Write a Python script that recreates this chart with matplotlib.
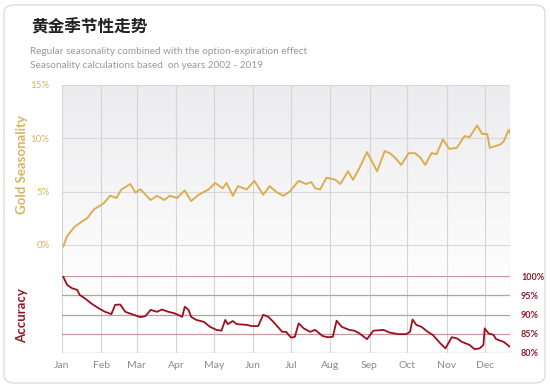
import matplotlib.pyplot as plt
import numpy as np
from matplotlib.patches import FancyBboxPatch
from matplotlib.colors import LinearSegmentedColormap

months = ['Jan', 'Feb', 'Mar', 'Apr', 'May', 'Jun', 'Jul', 'Aug', 'Sep', 'Oct', 'Nov', 'Dec']
month_start = [0, 31, 59, 90, 120, 151, 181, 212, 243, 273, 304, 334]

# gold seasonality (%), day of year
gold_days = [1, 4, 10, 16, 20, 25, 33, 38, 43, 47, 54, 58, 62, 70, 75, 81, 85, 91, 97, 102,
             108, 116, 121, 127, 130, 135, 139, 146, 152, 159, 164, 170, 175, 180, 187, 193,
             197, 200, 204, 209, 216, 220, 226, 230, 235, 241, 249, 255, 259, 263, 268, 274,
             279, 283, 287, 292, 296, 301, 306, 312, 318, 322, 328, 332, 336, 338, 346, 349,
             353, 354]
gold = [-0.15, 0.8, 1.7, 2.2, 2.5, 3.3, 3.9, 4.6, 4.4, 5.2, 5.7, 4.9, 5.2, 4.2, 4.6, 4.2, 4.6,
        4.4, 5.1, 4.1, 4.7, 5.2, 5.8, 5.3, 5.8, 4.6, 5.5, 5.2, 6.0, 4.7, 5.5, 4.9, 4.6, 5.0,
        6.0, 5.7, 5.9, 5.3, 5.2, 6.3, 6.1, 5.7, 6.9, 6.1, 7.2, 8.7, 6.9, 8.8, 8.6, 8.2, 7.5,
        8.6, 8.6, 8.2, 7.5, 8.6, 8.5, 9.9, 9.0, 9.1, 10.2, 10.1, 11.2, 10.4, 10.4, 9.1, 9.4,
        9.7, 10.8, 10.5]

# accuracy (%), day of year
acc_days = [1, 4, 8, 12, 14, 18, 23, 29, 34, 39, 42, 46, 50, 55, 62, 66, 70, 75, 79, 84, 89,
            95, 97, 100, 102, 106, 112, 117, 122, 126, 129, 131, 135, 138, 146, 150, 155, 159,
            163, 167, 174, 177, 181, 184, 187, 191, 196, 200, 206, 210, 214, 217, 221, 227,
            231, 235, 241, 246, 254, 259, 266, 272, 275, 277, 280, 284, 289, 293, 299, 303,
            308, 312, 316, 322, 326, 330, 333, 334, 337, 341, 343, 349, 354]
acc = [99.8, 97.7, 96.8, 96.4, 95.1, 94.2, 92.9, 91.6, 90.7, 90.1, 92.5, 92.6, 90.7, 90.1,
       89.3, 89.6, 91.2, 90.7, 91.3, 90.7, 90.3, 89.4, 92.0, 91.2, 89.4, 88.6, 88.1, 86.8,
       86.0, 85.8, 88.6, 87.5, 88.3, 87.5, 87.3, 87.0, 87.0, 89.9, 89.4, 88.1, 85.5, 85.5,
       84.0, 84.2, 87.7, 86.4, 85.5, 86.0, 84.4, 84.1, 84.2, 88.4, 86.8, 86.0, 85.8, 85.1,
       83.6, 85.8, 86.0, 85.3, 84.9, 84.9, 85.5, 88.7, 87.3, 86.8, 85.5, 84.7, 82.5, 81.2,
       84.1, 83.8, 82.9, 82.1, 81.0, 81.2, 82.1, 86.4, 85.1, 84.7, 83.6, 82.9, 81.6]

W, H = 550, 387
fig = plt.figure(figsize=(5.5, 3.87), dpi=100)
fig.patch.set_facecolor('white')

card = FancyBboxPatch((4 / W, 4 / H), 541 / W, 378 / H, boxstyle='round,pad=0,rounding_size=0.02',
                      transform=fig.transFigure, facecolor='white', edgecolor='#dddddd', lw=1,
                      zorder=-10)
fig.patches.append(card)

def fx(px):
    return px / W

def fy(py):
    return 1 - py / H

left, right = 62, 510
xmax = 354

# background axes: vertical grid, gradient, month labels
bg = fig.add_axes([fx(left), fy(353), fx(right - left), fy(85) - fy(353)])
grad = np.linspace(0, 1, 100).reshape(-1, 1)
cmap = LinearSegmentedColormap.from_list('g', ['white', '#ececee'])
bg.imshow(grad, cmap=cmap, origin='lower', extent=[0, xmax, 0.2, 1], aspect='auto', zorder=0)
bg.set_xlim(0, xmax)
bg.set_ylim(0, 1)
for m in month_start:
    bg.axvline(m, color='#d5d5d8', lw=0.8, zorder=1)
bg.axvline(xmax, color='#d5d5d8', lw=0.8, zorder=1)
bg.set_xticks(month_start)
bg.set_xticklabels(months, fontsize=7.5, color='#8a8a8a', family='Lato')
bg.tick_params(axis='x', length=0, pad=6)
bg.set_yticks([])
for s in bg.spines.values():
    s.set_visible(False)

# gold seasonality
ax = fig.add_axes([fx(left), fy(298), fx(right - left), fy(85) - fy(298)])
ax.patch.set_alpha(0)
ax.set_xlim(0, xmax)
ax.set_ylim(-5, 15)
for v in [15, 10, 5, 0, -5]:
    ax.axhline(v, color='#d8d8db', lw=0.8, zorder=1)
ax.plot(gold_days, gold, color='#dcae52', lw=1.4, zorder=3)
ax.set_yticks([15, 10, 5, 0])
ax.set_yticklabels(['15%', '10%', '5%', '0%'], fontsize=7, color='#d8b460', family='Lato')
ax.tick_params(axis='y', length=0, pad=9)
ax.set_xticks([])
for s in ax.spines.values():
    s.set_visible(False)

# accuracy
ax2 = fig.add_axes([fx(left), fy(353), fx(right - left), fy(276) - fy(353)])
ax2.patch.set_alpha(0)
ax2.set_xlim(0, xmax)
ax2.set_ylim(80, 100)
for v in [100, 95, 90, 85, 80]:
    ax2.axhline(v, color='#c49a9a', lw=0.9, zorder=1)
ax2.plot(acc_days, acc, color='#9c1020', lw=1.3, zorder=3)
ax2.yaxis.tick_right()
ax2.set_yticks([100, 95, 90, 85, 80])
ax2.set_yticklabels(['100%', '95%', '90%', '85%', '80%'], fontsize=6.5, color='#8e1a28',
                    family='Lato', fontweight='bold')
ax2.tick_params(axis='y', length=0, pad=8)
ax2.set_xticks([])
for s in ax2.spines.values():
    s.set_visible(False)

fig.text(fx(22), fy(165), 'Gold Seasonality', rotation=90, ha='center', va='center',
         fontsize=9.5, color='#d8b460', family='Lato', fontweight='bold')
fig.text(fx(22), fy(316), 'Accuracy', rotation=90, ha='center', va='center',
         fontsize=9.5, color='#8e1a28', family='Lato', fontweight='bold')

fig.text(fx(31), fy(27), '黄金季节性走势', fontsize=12, fontweight='bold', color='#222222',
         family='Noto Sans CJK SC', va='center')
fig.text(fx(30), fy(52), 'Regular seasonality combined with the option-expiration effect',
         fontsize=7.2, color='#999999', family='Lato', va='center')
fig.text(fx(30), fy(65), 'Seasonality calculations based  on years 2002 - 2019',
         fontsize=7.2, color='#999999', family='Lato', va='center')

fig.savefig('out.png', dpi=100)
